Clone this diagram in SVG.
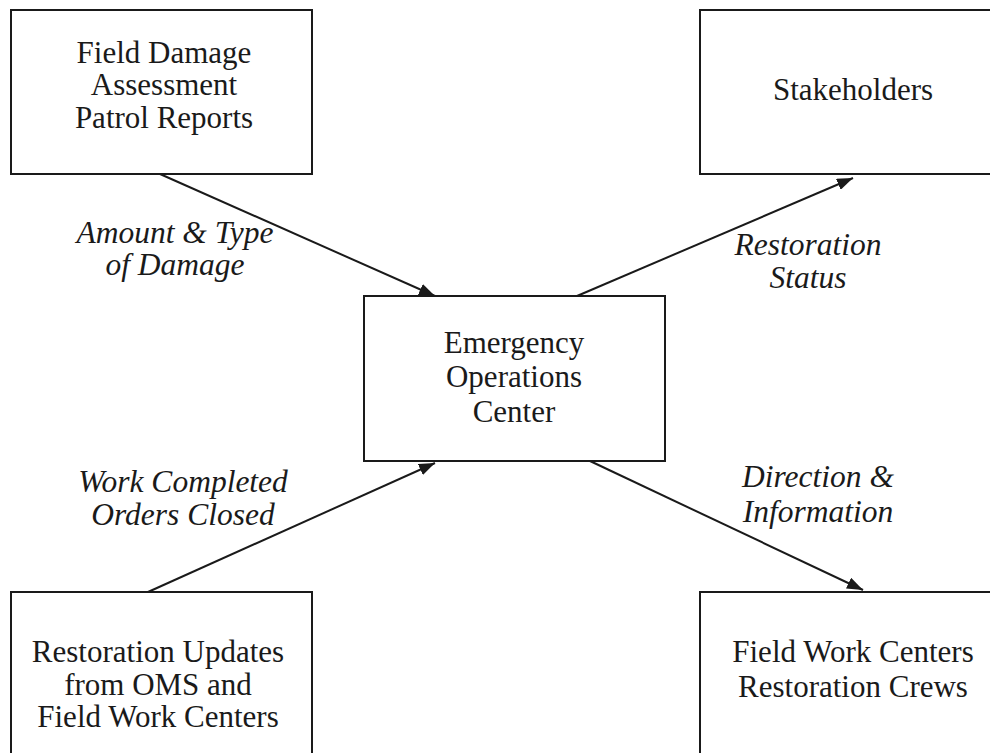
<svg xmlns="http://www.w3.org/2000/svg" width="990" height="753" viewBox="0 0 990 753">
  <style>
    .box { fill: #ffffff; stroke: #1a1a1a; stroke-width: 2; }
    .node-text { font-family: "Liberation Serif", "Times New Roman", serif; font-size: 31px; fill: #1a1a1a; text-anchor: middle; }
    .label { font-family: "Liberation Serif", "Times New Roman", serif; font-size: 31.5px; font-style: italic; fill: #1a1a1a; text-anchor: middle; }
    .conn { stroke: #1a1a1a; stroke-width: 2; fill: none; marker-end: url(#arrow); }
  </style>
  <defs>
    <marker id="arrow" markerUnits="userSpaceOnUse" markerWidth="18" markerHeight="12" refX="16" refY="6" orient="auto">
      <path d="M0,0 L16,6 L0,12 Z" fill="#1a1a1a"/>
    </marker>
  </defs>
  <rect width="990" height="753" fill="#ffffff"/>

  <g id="field-damage">
    <rect class="box" x="11" y="10" width="301" height="164"/>
    <text class="node-text" x="164" y="63">Field Damage</text>
    <text class="node-text" x="164" y="95">Assessment</text>
    <text class="node-text" x="164" y="128">Patrol Reports</text>
  </g>

  <g id="stakeholders">
    <rect class="box" x="700" y="10" width="301" height="164"/>
    <text class="node-text" x="853" y="100">Stakeholders</text>
  </g>

  <g id="eoc">
    <rect class="box" x="364" y="296" width="301" height="165"/>
    <text class="node-text" x="514" y="353">Emergency</text>
    <text class="node-text" x="514" y="387">Operations</text>
    <text class="node-text" x="514" y="422">Center</text>
  </g>

  <g id="restoration-updates">
    <rect class="box" x="11" y="592" width="301" height="170"/>
    <text class="node-text" x="158" y="662">Restoration Updates</text>
    <text class="node-text" x="158" y="695">from OMS and</text>
    <text class="node-text" x="158" y="727">Field Work Centers</text>
  </g>

  <g id="field-work-centers">
    <rect class="box" x="700" y="592" width="301" height="170"/>
    <text class="node-text" x="853" y="662">Field Work Centers</text>
    <text class="node-text" x="853" y="697">Restoration Crews</text>
  </g>

  <g id="connectors">
    <line class="conn" x1="160" y1="174" x2="435" y2="296"/>
    <line class="conn" x1="577" y1="296" x2="853" y2="178"/>
    <line class="conn" x1="148" y1="592" x2="435" y2="463"/>
    <line class="conn" x1="590" y1="461" x2="863" y2="590"/>
    <text class="label" x="175" y="243">Amount &amp; Type</text>
    <text class="label" x="175" y="275">of Damage</text>
    <text class="label" x="808" y="255">Restoration</text>
    <text class="label" x="808" y="288">Status</text>
    <text class="label" x="183" y="492">Work Completed</text>
    <text class="label" x="183" y="525">Orders Closed</text>
    <text class="label" x="818" y="487">Direction &amp;</text>
    <text class="label" x="818" y="522">Information</text>
  </g>
</svg>
